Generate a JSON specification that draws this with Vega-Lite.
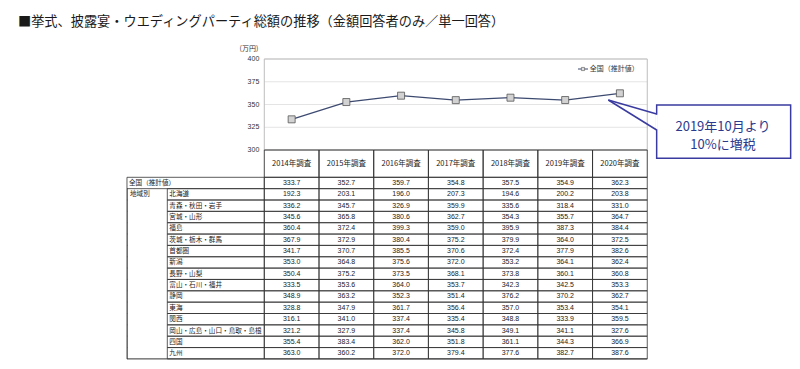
{
  "$schema": "https://vega.github.io/schema/vega-lite/v6.json",
  "width": 800,
  "height": 329,
  "autosize": "none",
  "padding": {"left": 0, "top": 40, "right": 0, "bottom": 0},
  "background": "white",
  "config": {"view": {"stroke": null}, "font": "Noto Sans CJK JP"},
  "title": {"text": "■挙式、披露宴・ウエディングパーティ総額の推移（金額回答者のみ／単一回答）", "anchor": "start", "frame": "group", "dx": 18, "offset": 11, "fontSize": 13.2, "fontWeight": "normal", "color": "#1a1a1a", "font": "Noto Sans CJK JP"},
  "datasets": {
    "tbl": [
      {"name": "全国（推計値）", "2014": 333.7, "2015": 352.7, "2016": 359.7, "2017": 354.8, "2018": 357.5, "2019": 354.9, "2020": 362.3},
      {"name": "北海道", "2014": 192.3, "2015": 203.1, "2016": 196.0, "2017": 207.3, "2018": 194.6, "2019": 200.2, "2020": 203.8},
      {"name": "青森・秋田・岩手", "2014": 336.2, "2015": 345.7, "2016": 326.9, "2017": 359.9, "2018": 335.6, "2019": 318.4, "2020": 331.0},
      {"name": "宮城・山形", "2014": 345.6, "2015": 365.8, "2016": 380.6, "2017": 362.7, "2018": 354.3, "2019": 355.7, "2020": 364.7},
      {"name": "福島", "2014": 360.4, "2015": 372.4, "2016": 399.3, "2017": 359.0, "2018": 395.9, "2019": 387.3, "2020": 384.4},
      {"name": "茨城・栃木・群馬", "2014": 367.9, "2015": 372.9, "2016": 380.4, "2017": 375.2, "2018": 379.9, "2019": 364.0, "2020": 372.5},
      {"name": "首都圏", "2014": 341.7, "2015": 370.7, "2016": 385.5, "2017": 370.6, "2018": 372.4, "2019": 377.9, "2020": 382.6},
      {"name": "新潟", "2014": 353.0, "2015": 364.8, "2016": 375.6, "2017": 372.0, "2018": 353.2, "2019": 364.1, "2020": 362.4},
      {"name": "長野・山梨", "2014": 350.4, "2015": 375.2, "2016": 373.5, "2017": 368.1, "2018": 373.8, "2019": 360.1, "2020": 360.8},
      {"name": "富山・石川・福井", "2014": 333.5, "2015": 353.6, "2016": 364.0, "2017": 353.7, "2018": 342.3, "2019": 342.5, "2020": 353.3},
      {"name": "静岡", "2014": 348.9, "2015": 363.2, "2016": 352.3, "2017": 351.4, "2018": 376.2, "2019": 370.2, "2020": 362.7},
      {"name": "東海", "2014": 328.8, "2015": 347.9, "2016": 361.7, "2017": 356.4, "2018": 357.0, "2019": 353.4, "2020": 354.1},
      {"name": "関西", "2014": 316.1, "2015": 341.0, "2016": 337.4, "2017": 335.4, "2018": 348.8, "2019": 333.9, "2020": 359.5},
      {"name": "岡山・広島・山口・鳥取・島根", "2014": 321.2, "2015": 327.9, "2016": 337.4, "2017": 345.8, "2018": 349.1, "2019": 341.1, "2020": 327.6},
      {"name": "四国", "2014": 355.4, "2015": 383.4, "2016": 362.0, "2017": 351.8, "2018": 361.1, "2019": 344.3, "2020": 366.9},
      {"name": "九州", "2014": 363.0, "2015": 360.2, "2016": 372.0, "2017": 379.4, "2018": 377.6, "2019": 382.7, "2020": 387.6}
    ],
    "years": [
      {"year": 2014, "label": "2014年調査"},
      {"year": 2015, "label": "2015年調査"},
      {"year": 2016, "label": "2016年調査"},
      {"year": 2017, "label": "2017年調査"},
      {"year": 2018, "label": "2018年調査"},
      {"year": 2019, "label": "2019年調査"},
      {"year": 2020, "label": "2020年調査"}
    ],
    "ticks": [{"v": 300}, {"v": 325}, {"v": 350}, {"v": 375}, {"v": 400}],
    "group": [{"name": "北海道", "label": "地域別"}],
    "one": [{}]
  },
  "layer": [
    {
      "layer": [
        {
          "data": {"name": "ticks"},
          "mark": {"type": "rule", "stroke": "#e4e4e4", "strokeWidth": 1},
          "encoding": {
            "x": {"datum": 2013.5, "type": "quantitative", "scale": {"domain": [2008.669, 2023.292], "nice": false, "zero": false}, "axis": null},
            "x2": {"datum": 2020.5},
            "y": {"field": "v", "type": "quantitative", "scale": {"domain": [59.34, 420.88], "nice": false, "zero": false}, "axis": null}
          }
        },
        {
          "data": {"name": "ticks"},
          "mark": {"type": "text", "align": "right", "baseline": "middle", "dx": -5, "fontSize": 7, "color": "#333", "font": "Liberation Sans"},
          "encoding": {
            "x": {"datum": 2013.5, "type": "quantitative", "scale": {"domain": [2008.669, 2023.292], "nice": false, "zero": false}, "axis": null},
            "y": {"field": "v", "type": "quantitative", "scale": {"domain": [59.34, 420.88], "nice": false, "zero": false}, "axis": null},
            "text": {"field": "v", "type": "quantitative"}
          }
        },
        {
          "data": {"name": "one"},
          "mark": {"type": "rect", "fill": "transparent", "stroke": "#bdbdbd", "strokeWidth": 1},
          "encoding": {
            "x": {"datum": 2013.5, "type": "quantitative", "scale": {"domain": [2008.669, 2023.292], "nice": false, "zero": false}, "axis": null},
            "x2": {"datum": 2020.5},
            "y": {"datum": 300, "type": "quantitative", "scale": {"domain": [59.34, 420.88], "nice": false, "zero": false}, "axis": null},
            "y2": {"datum": 400}
          }
        },
        {
          "data": {"name": "tbl"},
          "transform": [{"filter": "datum.name === '全国（推計値）'"}, {"fold": ["2014", "2015", "2016", "2017", "2018", "2019", "2020"], "as": ["year", "v"]}],
          "mark": {"type": "line", "stroke": "#3d4a70", "strokeWidth": 1.3},
          "encoding": {
            "x": {"field": "year", "type": "quantitative", "scale": {"domain": [2008.669, 2023.292], "nice": false, "zero": false}, "axis": null},
            "y": {"field": "v", "type": "quantitative", "scale": {"domain": [59.34, 420.88], "nice": false, "zero": false}, "axis": null}
          }
        },
        {
          "data": {"name": "tbl"},
          "transform": [{"filter": "datum.name === '全国（推計値）'"}, {"fold": ["2014", "2015", "2016", "2017", "2018", "2019", "2020"], "as": ["year", "v"]}],
          "mark": {"type": "point", "shape": "square", "size": 49, "filled": true, "fill": "#d2d2d2", "stroke": "#555", "strokeWidth": 0.8, "opacity": 1},
          "encoding": {
            "x": {"field": "year", "type": "quantitative", "scale": {"domain": [2008.669, 2023.292], "nice": false, "zero": false}, "axis": null},
            "y": {"field": "v", "type": "quantitative", "scale": {"domain": [59.34, 420.88], "nice": false, "zero": false}, "axis": null}
          }
        },
        {
          "data": {"name": "one"},
          "mark": {"type": "rule", "stroke": "#3d4a70", "strokeWidth": 1},
          "encoding": {
            "x": {"datum": 2019.234, "type": "quantitative", "scale": {"domain": [2008.669, 2023.292], "nice": false, "zero": false}, "axis": null},
            "x2": {"datum": 2019.417},
            "y": {"datum": 389, "type": "quantitative", "scale": {"domain": [59.34, 420.88], "nice": false, "zero": false}, "axis": null}
          }
        },
        {
          "data": {"name": "one"},
          "mark": {"type": "point", "shape": "square", "size": 10, "filled": true, "fill": "#e0e0e0", "stroke": "#555", "strokeWidth": 0.6, "opacity": 1},
          "encoding": {
            "x": {"datum": 2019.325, "type": "quantitative", "scale": {"domain": [2008.669, 2023.292], "nice": false, "zero": false}, "axis": null},
            "y": {"datum": 389, "type": "quantitative", "scale": {"domain": [59.34, 420.88], "nice": false, "zero": false}, "axis": null}
          }
        },
        {
          "data": {"name": "one"},
          "mark": {"type": "text", "text": "全国（推計値）", "align": "left", "baseline": "middle", "fontSize": 7, "color": "#333"},
          "encoding": {
            "x": {"datum": 2019.45, "type": "quantitative", "scale": {"domain": [2008.669, 2023.292], "nice": false, "zero": false}, "axis": null},
            "y": {"datum": 389, "type": "quantitative", "scale": {"domain": [59.34, 420.88], "nice": false, "zero": false}, "axis": null}
          }
        },
        {
          "data": {"name": "one"},
          "mark": {"type": "text", "text": "(万円)", "align": "center", "baseline": "middle", "fontSize": 7, "color": "#333"},
          "encoding": {
            "x": {"datum": 2013.22, "type": "quantitative", "scale": {"domain": [2008.669, 2023.292], "nice": false, "zero": false}, "axis": null},
            "y": {"datum": 410.5, "type": "quantitative", "scale": {"domain": [59.34, 420.88], "nice": false, "zero": false}, "axis": null}
          }
        },
        {
          "data": {"name": "years"},
          "mark": {"type": "rect", "width": 54.71, "fill": "transparent", "stroke": "#333", "strokeWidth": 0.9},
          "encoding": {
            "x": {"field": "year", "type": "quantitative", "scale": {"domain": [2008.669, 2023.292], "nice": false, "zero": false}, "axis": null},
            "y": {"datum": 300, "type": "quantitative", "scale": {"domain": [59.34, 420.88], "nice": false, "zero": false}, "axis": null},
            "y2": {"datum": 270}
          }
        },
        {
          "data": {"name": "years"},
          "mark": {"type": "text", "align": "center", "baseline": "middle", "fontSize": 7.5, "color": "#222"},
          "encoding": {
            "x": {"field": "year", "type": "quantitative", "scale": {"domain": [2008.669, 2023.292], "nice": false, "zero": false}, "axis": null},
            "y": {"datum": 285, "type": "quantitative", "scale": {"domain": [59.34, 420.88], "nice": false, "zero": false}, "axis": null},
            "text": {"field": "label"}
          }
        },
        {
          "data": {"name": "one"},
          "mark": {"type": "rect", "fill": "white", "stroke": "#3a3ba0", "strokeWidth": 1.5},
          "encoding": {
            "x": {"datum": 2020.672, "type": "quantitative", "scale": {"domain": [2008.669, 2023.292], "nice": false, "zero": false}, "axis": null},
            "x2": {"datum": 2023.121},
            "y": {"datum": 290.9, "type": "quantitative", "scale": {"domain": [59.34, 420.88], "nice": false, "zero": false}, "axis": null},
            "y2": {"datum": 349.45}
          }
        },
        {
          "data": {"name": "one"},
          "mark": {"type": "rule", "stroke": "white", "strokeWidth": 2.5},
          "encoding": {
            "x": {"datum": 2020.672, "type": "quantitative", "scale": {"domain": [2008.669, 2023.292], "nice": false, "zero": false}, "axis": null},
            "y": {"datum": 338.8, "type": "quantitative", "scale": {"domain": [59.34, 420.88], "nice": false, "zero": false}, "axis": null},
            "y2": {"datum": 322.7}
          }
        },
        {
          "data": {"name": "one"},
          "mark": {"type": "rule", "stroke": "#3a3ba0", "strokeWidth": 1.5},
          "encoding": {
            "x": {"datum": 2019.788, "type": "quantitative", "scale": {"domain": [2008.669, 2023.292], "nice": false, "zero": false}, "axis": null},
            "y": {"datum": 354.95, "type": "quantitative", "scale": {"domain": [59.34, 420.88], "nice": false, "zero": false}, "axis": null},
            "x2": {"datum": 2020.672},
            "y2": {"datum": 339.56}
          }
        },
        {
          "data": {"name": "one"},
          "mark": {"type": "rule", "stroke": "#3a3ba0", "strokeWidth": 1.5},
          "encoding": {
            "x": {"datum": 2019.788, "type": "quantitative", "scale": {"domain": [2008.669, 2023.292], "nice": false, "zero": false}, "axis": null},
            "y": {"datum": 354.95, "type": "quantitative", "scale": {"domain": [59.34, 420.88], "nice": false, "zero": false}, "axis": null},
            "x2": {"datum": 2020.672},
            "y2": {"datum": 321.98}
          }
        },
        {
          "data": {"name": "one"},
          "mark": {"type": "text", "text": "2019年10月より", "align": "center", "baseline": "middle", "fontSize": 13, "color": "#2b3a8e"},
          "encoding": {
            "x": {"datum": 2021.884, "type": "quantitative", "scale": {"domain": [2008.669, 2023.292], "nice": false, "zero": false}, "axis": null},
            "y": {"datum": 325.3, "type": "quantitative", "scale": {"domain": [59.34, 420.88], "nice": false, "zero": false}, "axis": null}
          }
        },
        {
          "data": {"name": "one"},
          "mark": {"type": "text", "text": "10%に増税", "align": "center", "baseline": "middle", "fontSize": 13, "color": "#2b3a8e"},
          "encoding": {
            "x": {"datum": 2021.884, "type": "quantitative", "scale": {"domain": [2008.669, 2023.292], "nice": false, "zero": false}, "axis": null},
            "y": {"datum": 305.0, "type": "quantitative", "scale": {"domain": [59.34, 420.88], "nice": false, "zero": false}, "axis": null}
          }
        }
      ]
    },
    {
      "layer": [
        {
          "data": {"name": "tbl"},
          "transform": [{"fold": ["2014", "2015", "2016", "2017", "2018", "2019", "2020"], "as": ["year", "v"]}],
          "mark": {"type": "rect", "width": 54.71, "fill": "transparent", "stroke": "#333", "strokeWidth": 0.8},
          "encoding": {
            "x": {"field": "year", "type": "quantitative", "scale": {"domain": [2008.669, 2023.292], "nice": false, "zero": false}, "axis": null},
            "y": {"field": "name", "type": "ordinal", "scale": {"domain": ["全国（推計値）", "北海道", "青森・秋田・岩手", "宮城・山形", "福島", "茨城・栃木・群馬", "首都圏", "新潟", "長野・山梨", "富山・石川・福井", "静岡", "東海", "関西", "岡山・広島・山口・鳥取・島根", "四国", "九州"], "range": [137.3, 318.9], "paddingInner": 0, "paddingOuter": 0}, "axis": null}
          }
        },
        {
          "data": {"name": "tbl"},
          "transform": [{"filter": "datum.name !== '全国（推計値）'"}],
          "mark": {"type": "rect", "fill": "transparent", "stroke": "#333", "strokeWidth": 0.8},
          "encoding": {
            "x": {"datum": 2011.727, "type": "quantitative", "scale": {"domain": [2008.669, 2023.292], "nice": false, "zero": false}, "axis": null},
            "x2": {"datum": 2013.5},
            "y": {"field": "name", "type": "ordinal", "scale": {"domain": ["全国（推計値）", "北海道", "青森・秋田・岩手", "宮城・山形", "福島", "茨城・栃木・群馬", "首都圏", "新潟", "長野・山梨", "富山・石川・福井", "静岡", "東海", "関西", "岡山・広島・山口・鳥取・島根", "四国", "九州"], "range": [137.3, 318.9], "paddingInner": 0, "paddingOuter": 0}, "axis": null}
          }
        },
        {
          "data": {"name": "tbl"},
          "transform": [{"filter": "datum.name === '全国（推計値）'"}],
          "mark": {"type": "rect", "fill": "transparent", "stroke": "#333", "strokeWidth": 0.8},
          "encoding": {
            "x": {"datum": 2010.99, "type": "quantitative", "scale": {"domain": [2008.669, 2023.292], "nice": false, "zero": false}, "axis": null},
            "x2": {"datum": 2013.5},
            "y": {"field": "name", "type": "ordinal", "scale": {"domain": ["全国（推計値）", "北海道", "青森・秋田・岩手", "宮城・山形", "福島", "茨城・栃木・群馬", "首都圏", "新潟", "長野・山梨", "富山・石川・福井", "静岡", "東海", "関西", "岡山・広島・山口・鳥取・島根", "四国", "九州"], "range": [137.3, 318.9], "paddingInner": 0, "paddingOuter": 0}, "axis": null}
          }
        },
        {
          "data": {"name": "tbl"},
          "transform": [{"filter": "datum.name !== '全国（推計値）'"}],
          "mark": {"type": "rect", "fill": "#333", "stroke": "#333", "strokeWidth": 0.6},
          "encoding": {
            "x": {"datum": 2010.99, "type": "quantitative", "scale": {"domain": [2008.669, 2023.292], "nice": false, "zero": false}, "axis": null},
            "x2": {"datum": 2010.995},
            "y": {"field": "name", "type": "ordinal", "scale": {"domain": ["全国（推計値）", "北海道", "青森・秋田・岩手", "宮城・山形", "福島", "茨城・栃木・群馬", "首都圏", "新潟", "長野・山梨", "富山・石川・福井", "静岡", "東海", "関西", "岡山・広島・山口・鳥取・島根", "四国", "九州"], "range": [137.3, 318.9], "paddingInner": 0, "paddingOuter": 0}, "axis": null}
          }
        },
        {
          "data": {"name": "tbl"},
          "transform": [{"filter": "datum.name === '九州'"}],
          "mark": {"type": "rule", "stroke": "#333", "strokeWidth": 1},
          "encoding": {
            "x": {"datum": 2010.99, "type": "quantitative", "scale": {"domain": [2008.669, 2023.292], "nice": false, "zero": false}, "axis": null},
            "x2": {"datum": 2020.5},
            "y": {"field": "name", "type": "ordinal", "bandPosition": 1, "scale": {"domain": ["全国（推計値）", "北海道", "青森・秋田・岩手", "宮城・山形", "福島", "茨城・栃木・群馬", "首都圏", "新潟", "長野・山梨", "富山・石川・福井", "静岡", "東海", "関西", "岡山・広島・山口・鳥取・島根", "四国", "九州"], "range": [137.3, 318.9], "paddingInner": 0, "paddingOuter": 0}, "axis": null}
          }
        },
        {
          "data": {"name": "tbl"},
          "transform": [{"filter": "datum.name !== '全国（推計値）'"}],
          "mark": {"type": "text", "align": "left", "baseline": "middle", "dx": 2, "fontSize": 6.6, "color": "#222"},
          "encoding": {
            "x": {"datum": 2011.727, "type": "quantitative", "scale": {"domain": [2008.669, 2023.292], "nice": false, "zero": false}, "axis": null},
            "y": {"field": "name", "type": "ordinal", "scale": {"domain": ["全国（推計値）", "北海道", "青森・秋田・岩手", "宮城・山形", "福島", "茨城・栃木・群馬", "首都圏", "新潟", "長野・山梨", "富山・石川・福井", "静岡", "東海", "関西", "岡山・広島・山口・鳥取・島根", "四国", "九州"], "range": [137.3, 318.9], "paddingInner": 0, "paddingOuter": 0}, "axis": null},
            "text": {"field": "name"}
          }
        },
        {
          "data": {"name": "tbl"},
          "transform": [{"filter": "datum.name === '全国（推計値）'"}],
          "mark": {"type": "text", "align": "left", "baseline": "middle", "dx": 2, "fontSize": 6.6, "color": "#222"},
          "encoding": {
            "x": {"datum": 2010.99, "type": "quantitative", "scale": {"domain": [2008.669, 2023.292], "nice": false, "zero": false}, "axis": null},
            "y": {"field": "name", "type": "ordinal", "scale": {"domain": ["全国（推計値）", "北海道", "青森・秋田・岩手", "宮城・山形", "福島", "茨城・栃木・群馬", "首都圏", "新潟", "長野・山梨", "富山・石川・福井", "静岡", "東海", "関西", "岡山・広島・山口・鳥取・島根", "四国", "九州"], "range": [137.3, 318.9], "paddingInner": 0, "paddingOuter": 0}, "axis": null},
            "text": {"field": "name"}
          }
        },
        {
          "data": {"name": "group"},
          "mark": {"type": "text", "align": "left", "baseline": "middle", "dx": 3, "fontSize": 6.6, "color": "#222"},
          "encoding": {
            "x": {"datum": 2010.99, "type": "quantitative", "scale": {"domain": [2008.669, 2023.292], "nice": false, "zero": false}, "axis": null},
            "y": {"field": "name", "type": "ordinal", "scale": {"domain": ["全国（推計値）", "北海道", "青森・秋田・岩手", "宮城・山形", "福島", "茨城・栃木・群馬", "首都圏", "新潟", "長野・山梨", "富山・石川・福井", "静岡", "東海", "関西", "岡山・広島・山口・鳥取・島根", "四国", "九州"], "range": [137.3, 318.9], "paddingInner": 0, "paddingOuter": 0}, "axis": null},
            "text": {"field": "label"}
          }
        },
        {
          "data": {"name": "tbl"},
          "transform": [{"fold": ["2014", "2015", "2016", "2017", "2018", "2019", "2020"], "as": ["year", "v"]}],
          "mark": {"type": "text", "align": "center", "baseline": "middle", "fontSize": 7, "color": "#222", "font": "Liberation Sans"},
          "encoding": {
            "x": {"field": "year", "type": "quantitative", "scale": {"domain": [2008.669, 2023.292], "nice": false, "zero": false}, "axis": null},
            "y": {"field": "name", "type": "ordinal", "scale": {"domain": ["全国（推計値）", "北海道", "青森・秋田・岩手", "宮城・山形", "福島", "茨城・栃木・群馬", "首都圏", "新潟", "長野・山梨", "富山・石川・福井", "静岡", "東海", "関西", "岡山・広島・山口・鳥取・島根", "四国", "九州"], "range": [137.3, 318.9], "paddingInner": 0, "paddingOuter": 0}, "axis": null},
            "text": {"field": "v", "type": "quantitative", "format": ".1f"}
          }
        }
      ]
    }
  ],
  "resolve": {"scale": {"y": "independent"}, "axis": {"y": "independent"}}
}
